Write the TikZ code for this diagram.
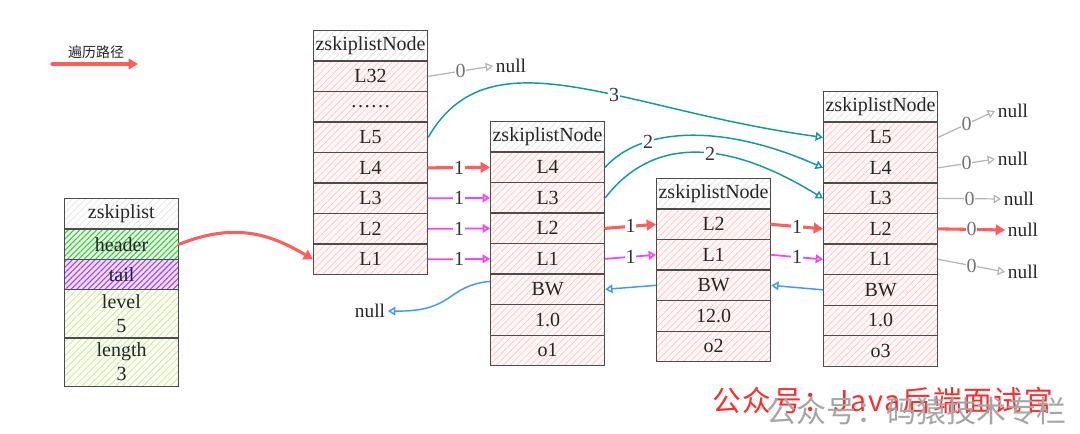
\documentclass[tikz,border=0pt]{standalone}
\usepackage{fontspec}
\setmainfont{Liberation Serif}
\newfontfamily\cjk{Noto Sans CJK SC}
\newfontfamily\cjkwide[LetterSpace=6]{Noto Sans CJK SC}
\usetikzlibrary{arrows.meta,patterns.meta}
\definecolor{redc}{HTML}{FF5C5C}
\definecolor{magc}{HTML}{FF40F0}
\definecolor{tealc}{HTML}{129A9A}
\definecolor{bluec}{HTML}{3D9BFF}
\definecolor{grayc}{HTML}{B4B4B4}
\definecolor{hpink}{HTML}{FFC4C4}
\definecolor{bpink}{HTML}{FFF7F7}
\definecolor{hgreen}{HTML}{3CC83C}
\definecolor{bgreen}{HTML}{E6F8E6}
\definecolor{hpurp}{HTML}{A040FF}
\definecolor{bpurp}{HTML}{EEDDFF}
\definecolor{hlime}{HTML}{CBE8A4}
\definecolor{blime}{HTML}{F9FFF2}
\definecolor{hgray}{HTML}{E4E4E4}
\definecolor{wmred}{HTML}{FF2A2A}
\begin{document}
\begin{tikzpicture}[x=0.75pt,y=-0.75pt,
  cell/.style={draw=black!70, line width=0.9pt, minimum width=85.5pt, minimum height=22.875pt,
    inner sep=0pt, anchor=north west, font=\fontsize{15}{18}\selectfont, text=black!85, align=center},
  hatch/.style n args={4}{preaction={fill=#2}, pattern={Lines[angle=45,distance=#3,line width=#4]}, pattern color=#1},
  pk/.style={hatch={hpink}{bpink}{3.6pt}{0.5pt}},
  tl/.style={hatch={hgray}{white}{3.6pt}{0.5pt}},
  gr/.style={hatch={hgreen}{bgreen}{3pt}{0.8pt}},
  pu/.style={hatch={hpurp}{bpurp}{3pt}{0.8pt}},
  li/.style={hatch={hlime}{blime}{3.6pt}{0.6pt}},
  rede/.style={draw=redc, line width=2.3pt, line cap=round, -{Triangle[length=7pt,width=8pt]}},
  mage/.style={draw=magc, line width=1.3pt, -{Triangle[open,length=5.5pt,width=6.5pt]}},
  teale/.style={draw=tealc, line width=1.1pt, -{Triangle[open,length=5.5pt,width=6.5pt]}},
  bluee/.style={draw=bluec, line width=1.1pt, -{Triangle[open,length=5.5pt,width=6.5pt]}},
  graye/.style={draw=grayc, line width=0.9pt, -{Triangle[open,length=5.5pt,width=6.5pt]}},
  lbl/.style={fill=white, inner sep=0.6pt, text=black!80, font=\fontsize{15}{15}\selectfont},
  nul/.style={inner sep=2pt, text=black!85, font=\fontsize{14.5}{15}\selectfont}
]
\fill[white] (0,0) rectangle (1080,434);
\useasboundingbox (0,0) rectangle (1080,434);

% legend
\coordinate (lg1) at (52,64);
\coordinate (lg2) at (138,64);
\draw[rede] (lg1) -- (lg2);
\node[font=\cjk\fontsize{10.5}{11}\selectfont, text=black!85] (lgt) at (96,52) {遍历路径};

% zskiplist
\node[cell,tl] (z0) at (64,198) {zskiplist};
\node[cell,gr] (zh) at (64,228.5) {header};
\node[cell,pu] (zt) at (64,259) {tail};
\node[cell,li,minimum height=36pt] (zl) at (64,289.5) {level\\5};
\node[cell,li,minimum height=36pt] (zn) at (64,337.5) {length\\3};

% header node
\node[cell,tl] (ht) at (313,30) {zskiplistNode};
\node[cell,pk] (h32) at (313,60.5) {L32};
\node[cell,pk] (hd) at (313,91) {……};
\node[cell,pk] (h5) at (313,121.5) {L5};
\node[cell,pk] (h4) at (313,152) {L4};
\node[cell,pk] (h3) at (313,182.5) {L3};
\node[cell,pk] (h2) at (313,213) {L2};
\node[cell,pk] (h1) at (313,243.5) {L1};

% node 1
\node[cell,tl] (a0) at (490,121) {zskiplistNode};
\node[cell,pk] (a4) at (490,151.5) {L4};
\node[cell,pk] (a3) at (490,182) {L3};
\node[cell,pk] (a2) at (490,212.5) {L2};
\node[cell,pk] (a1) at (490,243) {L1};
\node[cell,pk] (abw) at (490,273.5) {BW};
\node[cell,pk] (asc) at (490,304) {1.0};
\node[cell,pk] (aob) at (490,334.5) {o1};

% node 2
\node[cell,tl] (b0) at (656,178) {zskiplistNode};
\node[cell,pk] (b2) at (656,208.5) {L2};
\node[cell,pk] (b1) at (656,239) {L1};
\node[cell,pk] (bbw) at (656,269.5) {BW};
\node[cell,pk] (bsc) at (656,300) {12.0};
\node[cell,pk] (bob) at (656,330.5) {o2};

% node 3
\node[cell,tl] (c0) at (823,91) {zskiplistNode};
\node[cell,pk] (c5) at (823,121.5) {L5};
\node[cell,pk] (c4) at (823,152) {L4};
\node[cell,pk] (c3) at (823,182.5) {L3};
\node[cell,pk] (c2) at (823,213) {L2};
\node[cell,pk] (c1) at (823,243.5) {L1};
\node[cell,pk] (cbw) at (823,274) {BW};
\node[cell,pk] (csc) at (823,304.5) {1.0};
\node[cell,pk] (cob) at (823,335) {o3};

% null nodes
\node[nul] (nu0) at (511,66) {null};
\node[nul] (nuL) at (370,311) {null};
\node[nul] (nu5) at (1013,111) {null};
\node[nul] (nu4) at (1013,159) {null};
\node[nul] (nu3) at (1019,199) {null};
\node[nul] (nu2) at (1023,230) {null};
\node[nul] (nu1) at (1023,272) {null};

% header pointer
\draw[rede] (zh.east) .. controls (235,222) and (270,234) .. (h1.west);

% header node forward pointers
\draw[graye] (h32.east) -- node[lbl,text=black!55]{0} (nu0.west);
\draw[teale] (h5.east) .. controls (490,30) and (620,110) .. node[lbl,pos=0.6]{3} (c5.west);
\draw[rede] (h4.east) -- node[lbl]{1} (a4.west);
\draw[mage] (h3.east) -- node[lbl]{1} (a3.west);
\draw[mage] (h2.east) -- node[lbl]{1} (a2.west);
\draw[mage] (h1.east) -- node[lbl]{1} (a1.west);

% node 1 forward pointers
\draw[teale] (a4.east) .. controls (640,128) and (720,122) .. node[lbl,pos=0.3]{2} (c4.west);
\draw[teale] (a3.east) .. controls (650,140) and (720,135) .. node[lbl,pos=0.58]{2} (c3.west);
\draw[rede] (a2.east) -- node[lbl]{1} (b2.west);
\draw[mage] (a1.east) -- node[lbl]{1} (b1.west);

% node 2 forward pointers
\draw[rede] (b2.east) -- node[lbl]{1} (c2.west);
\draw[mage] (b1.east) -- node[lbl]{1} (c1.west);

% node 3 forward pointers
\draw[graye] (c5.east) -- node[lbl,text=black!55]{0} (nu5.west);
\draw[graye] (c4.east) -- node[lbl,text=black!55]{0} (nu4.west);
\draw[graye] (c3.east) -- node[lbl,text=black!55]{0} (nu3.west);
\draw[rede] (c2.east) -- node[lbl,text=black!55]{0} (nu2.west);
\draw[graye] (c1.east) -- node[lbl,text=black!55]{0} (nu1.west);

% backward pointers
\draw[bluee] (cbw.west) -- (bbw.east);
\draw[bluee] (bbw.west) -- (abw.east);
\draw[bluee] ([yshift=6pt]abw.west) .. controls (445,286) and (455,312) .. (nuL.east);

% watermark
\node[anchor=west, inner sep=0pt, text=wmred, font=\cjkwide\fontsize{21.5}{22}\selectfont] (wm1) at (712,401) {公众号：Java后端面试官};
\node[anchor=west, inner sep=0pt, text=black!35, font=\cjk\fontsize{22.5}{23}\selectfont] (wm2) at (766,411) {公众号：码猿技术专栏};
\end{tikzpicture}
\end{document}
